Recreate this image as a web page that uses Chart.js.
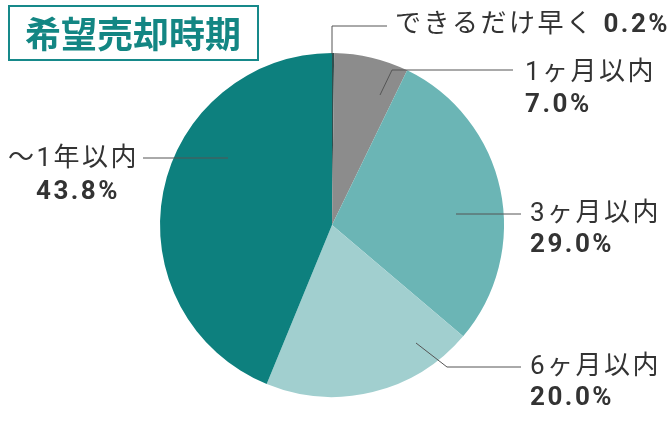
<!DOCTYPE html>
<html>
<head>
<meta charset="utf-8">
<script src="https://cdn.jsdelivr.net/npm/chart.js@4"></script>
<style>
html,body{margin:0;padding:0;background:#fff;}
#wrap{position:relative;width:668px;height:444px;}
</style>
</head>
<body>
<div id="wrap"><canvas id="c" width="668" height="444"></canvas></div>
<script>
const title = '希望売却時期';
const categories = ['できるだけ早く', '1ヶ月以内', '3ヶ月以内', '6ヶ月以内', '〜1年以内'];
const values = [0.2, 7.0, 29.0, 20.0, 43.8];
const colors = ['#2f4f4e', '#8c8c8c', '#6bb5b5', '#a1cfcf', '#0d807e'];

// label layout (annotation geometry only)
const labelLayout = [
  {inline: true, x: 395, y: 25, align: 'left', line: [[332, 54], [332, 26], [387, 26]]},
  {x: 525, y: 73, y2: 105, align: 'left', line: [[380, 95], [392, 70], [513, 70]]},
  {x: 530, y: 214, y2: 245, align: 'left', line: [[456, 214], [521, 214]]},
  {x: 530, y: 367, y2: 398, align: 'left', line: [[416, 343], [447, 367], [521, 367]]},
  {x: 8, y: 159, y2: 192, align: 'left', pctCenter: 78, line: [[143, 158], [228, 158]]}
];

const FONT = 'Roboto, "Noto Sans CJK JP", sans-serif';

const labelPlugin = {
  id: 'labels',
  afterDraw(chart) {
    const ctx = chart.ctx;
    ctx.save();
    // title box
    ctx.strokeStyle = '#16898a';
    ctx.lineWidth = 2;
    ctx.strokeRect(9, 6, 249, 54);
    ctx.fillStyle = '#138683';
    ctx.font = 'bold 36px "Noto Sans CJK JP", sans-serif';
    ctx.textBaseline = 'middle';
    ctx.textAlign = 'center';
    ctx.fillText(title, 133, 34);

    ctx.letterSpacing = '2.5px';
    labelLayout.forEach((L, i) => {
      ctx.strokeStyle = '#555';
      ctx.lineWidth = 1;
      ctx.beginPath();
      L.line.forEach((p, j) => j ? ctx.lineTo(p[0], p[1]) : ctx.moveTo(p[0], p[1]));
      ctx.stroke();
      const pct = values[i].toFixed(1) + '%';
      ctx.fillStyle = '#333';
      ctx.textBaseline = 'middle';
      ctx.textAlign = L.align;
      if (L.inline) {
        ctx.font = '26px ' + FONT;
        const t = categories[i] + ' ';
        ctx.fillText(t, L.x, L.y);
        const w = ctx.measureText(t).width;
        ctx.font = 'bold 26px ' + FONT;
        ctx.fillText(pct, L.x + w, L.y);
      } else {
        ctx.font = '26px ' + FONT;
        ctx.fillText(categories[i], L.x, L.y);
        ctx.font = 'bold 26px ' + FONT;
        if (L.pctCenter) {
          ctx.textAlign = 'center';
          ctx.fillText(pct, L.pctCenter, L.y2);
        } else {
          ctx.fillText(pct, L.x, L.y2);
        }
      }
    });
    ctx.restore();
  }
};

new Chart(document.getElementById('c'), {
  type: 'pie',
  data: {
    labels: categories,
    datasets: [{
      data: values,
      backgroundColor: colors,
      borderWidth: 0
    }]
  },
  options: {
    responsive: false,
    animation: false,
    layout: {padding: {top: 53, bottom: 47, left: 160, right: 164}},
    plugins: {legend: {display: false}, tooltip: {enabled: false}}
  },
  plugins: [labelPlugin]
});
</script>
</body>
</html>
